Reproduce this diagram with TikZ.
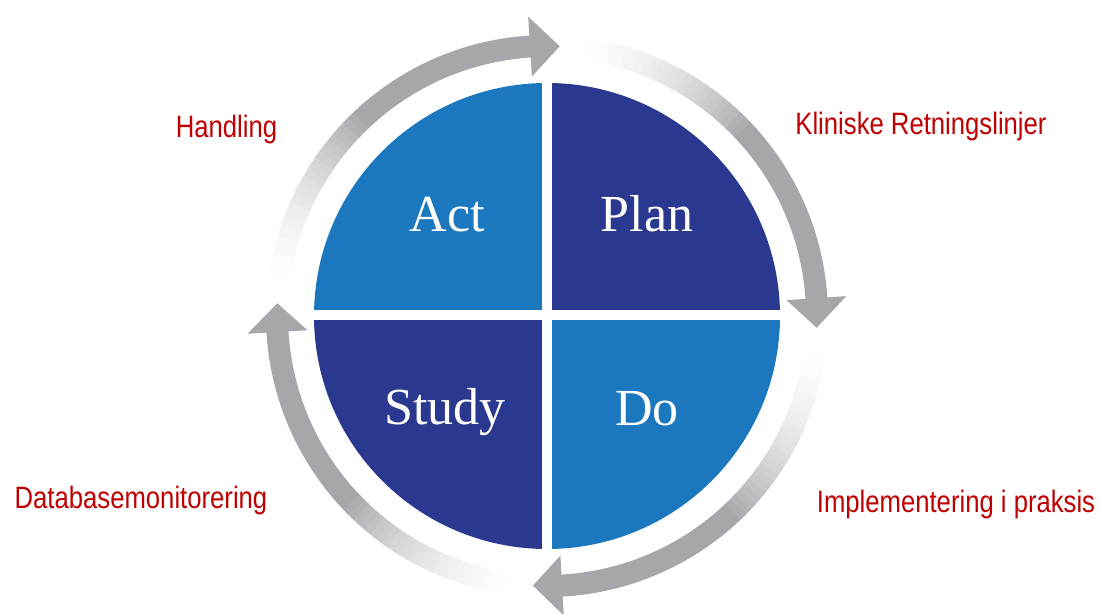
\documentclass[tikz,border=0pt]{standalone}
\usepackage{fontspec}
\usepackage{tikz}
\newfontfamily\labelfont[FakeStretch=0.83]{Liberation Sans}
\newfontfamily\quadfont{Liberation Serif}
\definecolor{actblue}{RGB}{28,120,190}
\definecolor{plannavy}{RGB}{42,57,143}
\definecolor{arrowgray}{RGB}{166,167,171}
\definecolor{labelred}{RGB}{192,0,0}

\begin{document}
\begin{tikzpicture}[x=0.025cm, y=0.025cm,
  quadlabel/.style={text=white, font=\quadfont\fontsize{37}{40}\selectfont, anchor=base, inner sep=0pt},
  sidelabel/.style={text=labelred, font=\labelfont\fontsize{22}{24}\selectfont, anchor=base, inner sep=0pt}]
\useasboundingbox (0,0) rectangle (1100,613);

\begin{scope}[shift={(547,297)}]
%quadrants
  \fill[actblue]  (0,0) -- (90:233) arc[start angle=90, end angle=180, radius=233] -- cycle;
  \fill[plannavy] (0,0) -- (0:233) arc[start angle=0, end angle=90, radius=233] -- cycle;
  \fill[plannavy] (0,0) -- (180:233) arc[start angle=180, end angle=270, radius=233] -- cycle;
  \fill[actblue]  (0,0) -- (270:233) arc[start angle=270, end angle=360, radius=233] -- cycle;
  \fill[white] (-5,-240) rectangle (5,240);
  \fill[white] (-240,-4) rectangle (240,6);

  \node[quadlabel] (act)   at (-100,84)  {Act};
  \node[quadlabel] (plan)  at (100,84)   {Plan};
  \node[quadlabel] (study) at (-102,-109) {Study};
  \node[quadlabel] (do)    at (100,-110) {Do};

%cycle arrows: start / head base / tip
  \foreach \s/\b/\t in {177/93.6/87.3, 87/3.8/-2.5, -3/-86.8/-93, -93/-176.6/-182.7}{
    \foreach \i in {0,...,29}{
      \pgfmathsetmacro{\aa}{\s-1.5*\i}
      \pgfmathsetmacro{\ab}{\s-1.5*\i-1.8}
      \pgfmathtruncatemacro{\p}{100*((\i+1)/30)^2}
      \fill[arrowgray!\p!white] (\aa:259) arc[start angle=\aa, end angle=\ab, radius=259]
        -- (\ab:281) arc[start angle=\ab, end angle=\aa, radius=281] -- cycle;
    }
    \pgfmathsetmacro{\m}{\s-45}
    \pgfmathsetmacro{\e}{\b-0.5}
    \fill[arrowgray] (\m:259) arc[start angle=\m, end angle=\e, radius=259]
      -- (\e:281) arc[start angle=\e, end angle=\m, radius=281] -- cycle;
    \fill[arrowgray] (\b:240) -- (\t:270) -- (\b:300) -- cycle;
  }
\end{scope}

%labels
  \node[sidelabel] (handling) at (226.5,475) {Handling};
  \node[sidelabel] (kliniske) at (921,478)   {Kliniske Retningslinjer};
  \node[sidelabel] (database) at (141,105)   {Databasemonitorering};
  \node[sidelabel] (implement) at (956,100)  {Implementering i praksis};
\end{tikzpicture}
\end{document}
